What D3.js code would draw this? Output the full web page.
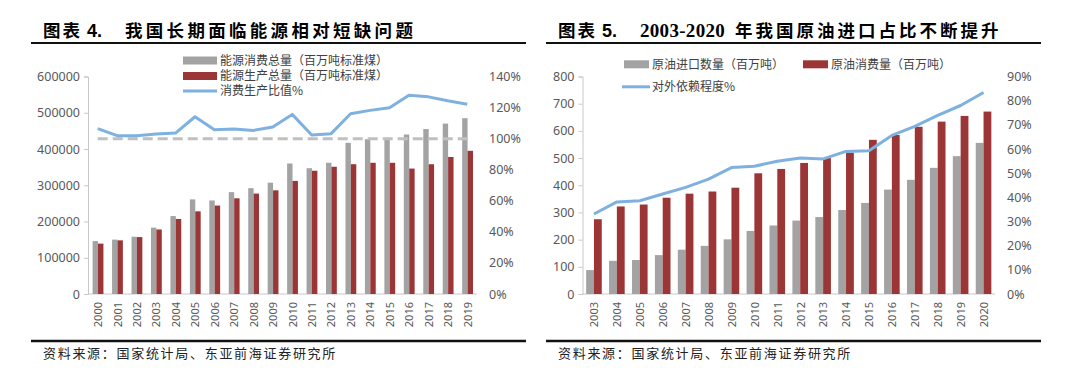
<!DOCTYPE html>
<html><head><meta charset="utf-8">
<script src="https://cdn.jsdelivr.net/npm/d3@7"></script>
<style>
html,body{margin:0;padding:0;background:#fff;}
svg{display:block;}
text{font-family:"Noto Sans","Noto Sans CJK SC",sans-serif;}
</style></head>
<body>
<svg id="c" width="1080" height="378"></svg>
<script>
// ---------- Left chart data ----------
const yearsA = ["2000","2001","2002","2003","2004","2005","2006","2007","2008","2009","2010","2011","2012","2013","2014","2015","2016","2017","2018","2019"];
const consumptionA = [146000,150000,158000,183000,215000,261000,258000,281000,292000,307000,360000,347000,362000,417000,427000,431000,440000,455000,470000,485000];
const productionA  = [139000,148000,157000,178000,207000,228000,244000,264000,277000,286000,312000,340000,351000,358000,362000,362000,346000,358000,378000,395000];
const ratioA = [106.4,101.9,101.9,103.0,103.6,114.1,105.8,106.2,105.3,107.5,115.6,102.4,103.2,116.0,118.2,119.9,128.0,126.9,124.4,122.2];
const baselineA = yearsA.map(() => 100);
const leftTicksA = [0,100000,200000,300000,400000,500000,600000];
const rightTicksA = [0,20,40,60,80,100,120,140];
const legendA = ["能源消费总量（百万吨标准煤）","能源生产总量（百万吨标准煤）","消费生产比值%"];
const titleA = ["图表","4.","我国长期面临能源相对短缺问题"];

// ---------- Right chart data ----------
const yearsB = ["2003","2004","2005","2006","2007","2008","2009","2010","2011","2012","2013","2014","2015","2016","2017","2018","2019","2020"];
const importsB = [88,122,125,143,163,177,201,232,252,270,283,309,335,384,420,464,507,556];
const consumptionB = [275,322,329,354,369,377,391,444,460,482,500,520,567,585,615,634,655,671];
const dependencyB = [33.1,38.1,38.6,41.4,44.1,47.5,52.3,52.9,54.9,56.3,55.9,59.0,59.3,65.6,69.4,73.9,78.0,83.4];
const leftTicksB = [0,100,200,300,400,500,600,700,800];
const rightTicksB = [0,10,20,30,40,50,60,70,80,90];
const legendB = ["原油进口数量（百万吨）","原油消费量（百万吨）","对外依赖程度%"];
const titleB = ["图表","5.","2003-2020","年我国原油进口占比不断提升"];

const sourceText = "资料来源：国家统计局、东亚前海证券研究所";

const GRAY = "#a3a3a3", RED = "#9b3536", BLUE = "#7eb1df", DASH = "#c0c0c0";
const svg = d3.select("#c");

function frame(xl, xr) {
  svg.append("line").attr("x1",xl).attr("x2",xr).attr("y1",43).attr("y2",43)
     .attr("stroke","#111").attr("stroke-width",2);
  svg.append("line").attr("x1",xl).attr("x2",xr).attr("y1",341).attr("y2",341)
     .attr("stroke","#111").attr("stroke-width",2.5);
  svg.append("text").attr("x",xl+12).attr("y",358).text(sourceText)
     .style("font-family","'Noto Sans CJK SC'").style("font-size","13px")
     .style("letter-spacing","1.7px").attr("fill","#222");
}

function axes(g, x, yL, yR, ticksL, ticksR, fmtL, fmtR, years, xStart, xEnd, yBot, labelRightX) {
  const ax = d3.axisLeft(yL).tickValues(ticksL).tickFormat(fmtL).tickSize(4).tickPadding(4);
  const ag = g.append("g").attr("transform",`translate(${xStart},0)`).call(ax);
  ag.select(".domain").attr("stroke","#c8c8c8");
  ag.selectAll(".tick line").attr("stroke","#c8c8c8");
  ag.selectAll("text").attr("fill","#595959").style("font-size","12.5px").style("font-family","'Noto Sans'");
  const rg = g.append("g").attr("transform",`translate(${labelRightX},0)`)
     .call(d3.axisRight(yR).tickValues(ticksR).tickFormat(fmtR).tickSize(0).tickPadding(0));
  rg.select(".domain").remove();
  rg.selectAll("text").attr("fill","#595959").style("font-size","12.5px").style("font-family","'Noto Sans'");
  g.append("line").attr("x1",xStart).attr("x2",xEnd).attr("y1",yBot).attr("y2",yBot)
   .attr("stroke","#c8c8c8").attr("stroke-width",1);
  g.selectAll("text.yr").data(years).enter().append("text").attr("class","yr")
   .attr("transform",d=>`translate(${x(d)+x.bandwidth()/2+0.5},${yBot+8}) rotate(-90)`)
   .attr("text-anchor","end").attr("dy","0.35em")
   .attr("fill","#595959").style("font-size","11px").style("font-family","'Noto Sans'")
   .text(d=>d);
}

// ================= LEFT CHART =================
(function(){
  frame(31, 526);
  const t = svg.append("text").attr("y",37).attr("fill","#000").style("font-weight","bold");
  t.append("tspan").attr("x",43).style("font-family","'Noto Sans CJK SC'").style("font-size","17.5px").style("letter-spacing","2px").text(titleA[0]);
  t.append("tspan").attr("x",87).style("font-family","'Liberation Sans'").style("font-size","18px").text(titleA[1]);
  t.append("tspan").attr("x",125).style("font-family","'Noto Sans CJK SC'").style("font-size","17.5px").style("letter-spacing","3.3px").text(titleA[2]);

  const xStart = 88, xEnd = 477, yTop = 76.5, yBot = 294;
  const g = svg.append("g");
  const x = d3.scaleBand().domain(yearsA).range([xStart,xEnd]).paddingInner(0).paddingOuter(0);
  const yL = d3.scaleLinear().domain([0,600000]).range([yBot,yTop]);
  const yR = d3.scaleLinear().domain([0,140]).range([yBot,yTop]);
  const bw = 5.4, off = x.bandwidth()/2 - bw;

  axes(g, x, yL, yR, leftTicksA, rightTicksA, d3.format("d"), d=>d+"%", yearsA, xStart, xEnd, yBot, 489);

  g.selectAll("rect.c").data(yearsA).enter().append("rect").attr("class","c")
   .attr("x",d=>x(d)+off+0.3).attr("width",bw)
   .attr("y",(d,i)=>yL(consumptionA[i])).attr("height",(d,i)=>yBot-yL(consumptionA[i])).attr("fill",GRAY);
  g.selectAll("rect.p").data(yearsA).enter().append("rect").attr("class","p")
   .attr("x",d=>x(d)+off+bw+0.3).attr("width",bw)
   .attr("y",(d,i)=>yL(productionA[i])).attr("height",(d,i)=>yBot-yL(productionA[i])).attr("fill",RED);

  const cx = d => x(d)+x.bandwidth()/2;
  const line = d3.line().x((d,i)=>cx(yearsA[i])).y(d=>yR(d));
  g.append("path").datum(baselineA).attr("d",line).attr("fill","none")
   .attr("stroke",DASH).attr("stroke-width",3).attr("stroke-dasharray","10,5");
  g.append("path").datum(ratioA).attr("d",line).attr("fill","none")
   .attr("stroke",BLUE).attr("stroke-width",3).attr("stroke-linejoin","round");

  const lg = svg.append("g");
  lg.append("rect").attr("x",183).attr("y",56.5).attr("width",34).attr("height",8).attr("fill",GRAY);
  lg.append("rect").attr("x",183).attr("y",72).attr("width",34).attr("height",8).attr("fill",RED);
  lg.append("line").attr("x1",183).attr("x2",217).attr("y1",91).attr("y2",91).attr("stroke",BLUE).attr("stroke-width",3);
  [60.5,76,91].forEach((yy,i)=>{
    lg.append("text").attr("x",220).attr("y",yy).attr("dy","0.36em").attr("fill","#404040")
      .style("font-family","'Noto Sans CJK SC'").style("font-size","12px").text(legendA[i]);
  });
})();

// ================= RIGHT CHART =================
(function(){
  frame(546, 1041);
  const t = svg.append("text").attr("y",37).attr("fill","#000").style("font-weight","bold");
  t.append("tspan").attr("x",558).style("font-family","'Noto Sans CJK SC'").style("font-size","17.5px").style("letter-spacing","2px").text(titleB[0]);
  t.append("tspan").attr("x",602).style("font-family","'Liberation Sans'").style("font-size","18px").text(titleB[1]);
  t.append("tspan").attr("x",640).style("font-family","'Liberation Serif'").style("font-size","19px").style("letter-spacing","0.3px").text(titleB[2]);
  t.append("tspan").attr("x",735).style("font-family","'Noto Sans CJK SC'").style("font-size","17.5px").style("letter-spacing","3px").text(titleB[3]);

  const xStart = 582.5, xEnd = 995, yTop = 76.5, yBot = 294;
  const g = svg.append("g");
  const x = d3.scaleBand().domain(yearsB).range([xStart,xEnd]).paddingInner(0).paddingOuter(0);
  const yL = d3.scaleLinear().domain([0,800]).range([yBot,yTop]);
  const yR = d3.scaleLinear().domain([0,90]).range([yBot,yTop]);
  const bw = 7.8, off = x.bandwidth()/2 - bw;

  axes(g, x, yL, yR, leftTicksB, rightTicksB, d3.format("d"), d=>d+"%", yearsB, xStart, xEnd, yBot, 1007);

  g.selectAll("rect.c").data(yearsB).enter().append("rect").attr("class","c")
   .attr("x",d=>x(d)+off).attr("width",bw)
   .attr("y",(d,i)=>yL(importsB[i])).attr("height",(d,i)=>yBot-yL(importsB[i])).attr("fill",GRAY);
  g.selectAll("rect.p").data(yearsB).enter().append("rect").attr("class","p")
   .attr("x",d=>x(d)+off+bw).attr("width",bw)
   .attr("y",(d,i)=>yL(consumptionB[i])).attr("height",(d,i)=>yBot-yL(consumptionB[i])).attr("fill",RED);

  const cx = d => x(d)+x.bandwidth()/2;
  const line = d3.line().x((d,i)=>cx(yearsB[i])).y(d=>yR(d));
  g.append("path").datum(dependencyB).attr("d",line).attr("fill","none")
   .attr("stroke",BLUE).attr("stroke-width",3).attr("stroke-linejoin","round");

  const lg = svg.append("g");
  lg.append("rect").attr("x",624).attr("y",60.3).attr("width",25).attr("height",8).attr("fill",GRAY);
  lg.append("text").attr("x",652).attr("y",64.3).attr("dy","0.36em").attr("fill","#404040")
    .style("font-family","'Noto Sans CJK SC'").style("font-size","12px").text(legendB[0]);
  lg.append("rect").attr("x",803).attr("y",60.3).attr("width",25).attr("height",8).attr("fill",RED);
  lg.append("text").attr("x",831).attr("y",64.3).attr("dy","0.36em").attr("fill","#404040")
    .style("font-family","'Noto Sans CJK SC'").style("font-size","12px").text(legendB[1]);
  lg.append("line").attr("x1",622).attr("x2",650).attr("y1",86.8).attr("y2",86.8).attr("stroke",BLUE).attr("stroke-width",3);
  lg.append("text").attr("x",652).attr("y",86.8).attr("dy","0.36em").attr("fill","#404040")
    .style("font-family","'Noto Sans CJK SC'").style("font-size","12px").text(legendB[2]);
})();
</script>
</body></html>
